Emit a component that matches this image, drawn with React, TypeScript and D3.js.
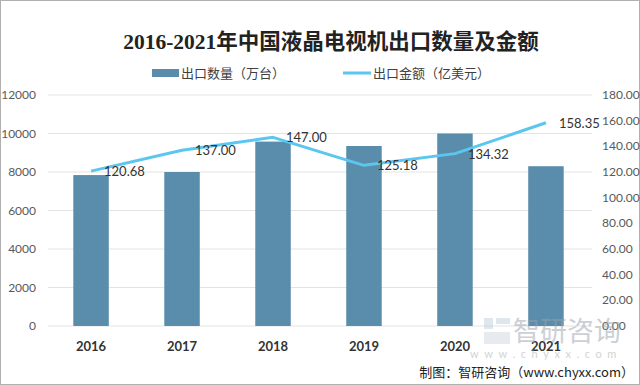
import React from 'react'
import { scaleBand, scaleLinear, line } from 'd3'

const years = ['2016', '2017', '2018', '2019', '2020', '2021']
const exportQty = [7840, 8000, 9580, 9350, 10000, 8300]
const exportValue = [120.68, 137.0, 147.0, 125.18, 134.32, 158.35]
const leftTicks = [0, 2000, 4000, 6000, 8000, 10000, 12000]
const rightTicks = [0, 20, 40, 60, 80, 100, 120, 140, 160, 180]

const W = 640
const H = 385
const PLOT = { left: 46, right: 591, top: 95, bottom: 326 }
const BAR_COLOR = '#5a8cab'
const LINE_COLOR = '#5bc6ee'
const SANS = 'Lato, "Open Sans", "Noto Sans CJK SC", sans-serif'
const CJK = '"Noto Sans CJK SC", sans-serif'

export default function App(): JSX.Element {
  const x = scaleBand<string>().domain(years).range([PLOT.left, PLOT.right]).paddingInner(0.61).paddingOuter(0.3)
  const yL = scaleLinear().domain([0, 12000]).range([PLOT.bottom, PLOT.top])
  const yR = scaleLinear().domain([0, 180]).range([PLOT.bottom, PLOT.top])
  const cx = (y: string) => (x(y) ?? 0) + x.bandwidth() / 2

  const lineFn = line<number>()
    .x((_d, i) => cx(years[i]))
    .y((d) => yR(d))

  return (
    <div style={{ position: 'fixed', left: 0, top: 0 }}>
      <svg width={W} height={H} xmlns="http://www.w3.org/2000/svg" style={{ display: 'block', background: '#fff' }}>
        <rect x={0.5} y={0.5} width={W - 1} height={H - 1} fill="#fff" stroke="#b0b0b0" />

        <text x={331} y={49} textAnchor="middle" fontSize={21.5} fontWeight="bold"
          fontFamily='"Liberation Serif", "Noto Sans CJK SC", serif' fill="#222">
          2016-2021年中国液晶电视机出口数量及金额
        </text>

        {/* legend */}
        <g fontFamily={CJK} fontSize={13} fill="#404040">
          <rect x={152} y={69} width={27} height={8} fill={BAR_COLOR} />
          <text x={181} y={78}>出口数量（万台）</text>
          <line x1={343} x2={371} y1={73} y2={73} stroke={LINE_COLOR} strokeWidth={3} />
          <text x={373} y={78}>出口金额（亿美元）</text>
        </g>

        {/* grid */}
        {leftTicks.map((t) => (
          <line key={t} x1={48} x2={592} y1={yL(t)} y2={yL(t)} stroke="#e3e3e3" strokeWidth={1} />
        ))}

        {/* bars */}
        {years.map((yr, i) => (
          <rect key={yr} x={x(yr)} y={yL(exportQty[i])} width={x.bandwidth()} height={PLOT.bottom - yL(exportQty[i])} fill={BAR_COLOR} />
        ))}

        {/* line */}
        <path d={lineFn(exportValue) ?? ''} fill="none" stroke={LINE_COLOR} strokeWidth={3} strokeLinejoin="round" />
        {exportValue.map((v, i) => (
          <text key={i} x={cx(years[i]) + 13} y={yR(v) + 5} fontFamily={SANS} fontSize={13} fill="#333">
            {v.toFixed(2)}
          </text>
        ))}

        {/* left axis */}
        {leftTicks.map((t) => (
          <text key={t} x={36} y={yL(t) + 4} textAnchor="end" fontFamily={SANS} fontSize={12} fill="#595959">{t}</text>
        ))}
        {/* right axis */}
        {rightTicks.map((t) => (
          <text key={t} x={602} y={yR(t) + 4} fontFamily={SANS} fontSize={12} fill="#595959">{t.toFixed(2)}</text>
        ))}
        {/* x axis labels */}
        {years.map((yr) => (
          <text key={yr} x={cx(yr)} y={351} textAnchor="middle" fontFamily={SANS} fontSize={13} fontWeight="bold" fill="#333">{yr}</text>
        ))}

        {/* watermark */}
        <g opacity={0.5}>
          <rect x={484} y={318} width={9} height={11} fill="#c2cfdc" />
          <rect x={496} y={318} width={14} height={6} fill="#c2cfdc" />
          <rect x={484} y={332} width={26} height={12} fill="#d0d9e3" />
          <text x={513} y={341} fontFamily={CJK} fontSize={27} fill="#9aa3ad">智研咨询</text>
          <text x={470} y={358} fontFamily={SANS} fontSize={11} fill="#a8a8a8" letterSpacing={5.6}>www.chyxx.com</text>
        </g>

        <text x={634} y={377} textAnchor="end" fontFamily={CJK} fontSize={13} fill="#222">制图：智研咨询（www.chyxx.com）</text>
      </svg>
    </div>
  )
}
